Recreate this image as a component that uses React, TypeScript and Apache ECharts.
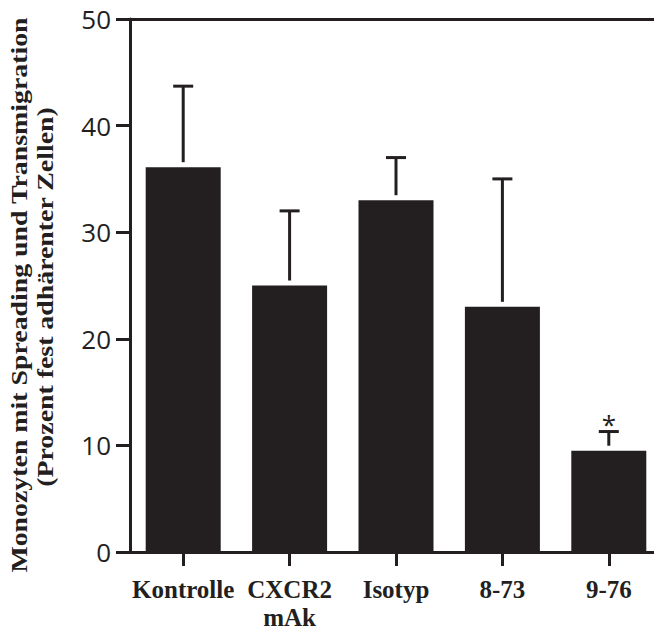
import React, { useEffect, useRef } from "react";
import * as echarts from "echarts";

const categories = ["Kontrolle", "CXCR2\nmAk", "Isotyp", "8-73", "9-76"];
const means = [36.1, 25.0, 33.0, 23.0, 9.5];
const upperErrors = [43.7, 32.0, 37.0, 35.0, 11.3];
const significance = ["", "", "", "", "*"];
const yTitleLine1 = "Monozyten mit Spreading und Transmigration";
const yTitleLine2 = "(Prozent fest adhärenter Zellen)";

const INK = "#231f20";

export default function App() {
  const ref = useRef<HTMLDivElement>(null);
  useEffect(() => {
    if (!ref.current) return;
    const chart = echarts.init(ref.current, undefined, { renderer: "svg" });
    const errData = means.map((m, i) => [i, m, upperErrors[i], significance[i]]);
    chart.setOption({
      animation: false,
      backgroundColor: "#ffffff",
      grid: { left: 130, top: 19, height: 533, width: 535 },
      xAxis: [
        {
          type: "category",
          data: categories,
          axisLine: { show: true, lineStyle: { color: INK, width: 3 } },
          axisTick: { show: true, alignWithLabel: true, length: 14, lineStyle: { color: INK, width: 3 } },
          axisLabel: {
            margin: 23,
            color: INK,
            fontFamily: "Liberation Serif",
            fontWeight: "bold",
            fontSize: 25,
            lineHeight: 28,
            interval: 0,
          },
        },
        {
          type: "category",
          data: categories,
          position: "top",
          axisLine: { show: true, lineStyle: { color: INK, width: 3 } },
          axisTick: { show: false },
          axisLabel: { show: false },
        },
      ],
      yAxis: {
        type: "value",
        min: 0,
        max: 50,
        interval: 10,
        axisLine: { show: true, lineStyle: { color: INK, width: 3 } },
        axisTick: { show: true, length: 14, lineStyle: { color: INK, width: 3 } },
        splitLine: { show: false },
        axisLabel: { margin: 19, color: INK, fontFamily: "Open Sans", fontSize: 26 },
      },
      graphic: [
        {
          type: "text",
          x: 19,
          y: 295,
          rotation: Math.PI / 2,
          scaleX: 1.16,
          style: {
            text: yTitleLine1,
            align: "center",
            verticalAlign: "middle",
            fontFamily: "Liberation Serif",
            fontWeight: "bold",
            fontSize: 24,
            fill: INK,
          },
        },
        {
          type: "text",
          x: 45,
          y: 297,
          rotation: Math.PI / 2,
          scaleX: 1.16,
          style: {
            text: yTitleLine2,
            align: "center",
            verticalAlign: "middle",
            fontFamily: "Liberation Serif",
            fontWeight: "bold",
            fontSize: 24,
            fill: INK,
          },
        },
      ],
      series: [
        {
          type: "bar",
          data: means,
          barWidth: 75,
          itemStyle: { color: INK },
          z: 2,
        },
        {
          type: "custom",
          data: errData,
          z: 3,
          clip: false,
          renderItem: (params: any, api: any) => {
            const idx = api.value(0);
            const base = api.coord([idx, api.value(1)]);
            const top = api.coord([idx, api.value(2)]);
            const sig = significance[params.dataIndex];
            const children: any[] = [
              {
                type: "line",
                shape: { x1: top[0], y1: base[1] - 5, x2: top[0], y2: top[1] },
                style: { stroke: INK, lineWidth: 3 },
              },
              {
                type: "line",
                shape: { x1: top[0] - 10, y1: top[1], x2: top[0] + 10, y2: top[1] },
                style: { stroke: INK, lineWidth: 3 },
              },
            ];
            if (sig) {
              children.push({
                type: "text",
                style: {
                  text: sig,
                  x: top[0],
                  y: top[1] + 5,
                  align: "center",
                  verticalAlign: "bottom",
                  fontFamily: "Open Sans",
                  fontSize: 26,
                  fill: INK,
                },
              });
            }
            return { type: "group", children };
          },
        },
      ],
    });
    return () => chart.dispose();
  }, []);
  return <div ref={ref} style={{ width: 662, height: 634, margin: -8 }} />;
}
